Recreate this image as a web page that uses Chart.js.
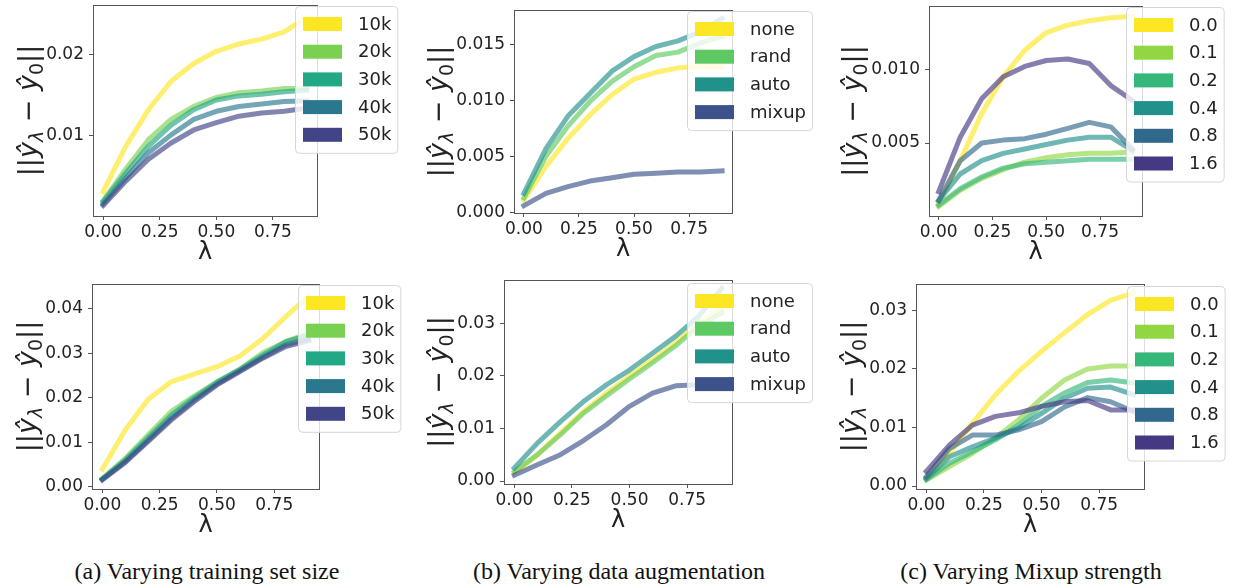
<!DOCTYPE html>
<html>
<head>
<meta charset="utf-8">
<script src="https://cdn.jsdelivr.net/npm/chart.js@4.4.1/dist/chart.umd.min.js"></script>
<style>
  body { margin: 0; background: #fff; }
  #page { position: relative; width: 1233px; height: 588px; overflow: hidden; background: #fff; }
  canvas { position: absolute; }
  .cap { position: absolute; top: 558px; font-family: "Liberation Serif", "Times New Roman", serif; font-size: 24px; color: #111; white-space: nowrap; transform: translateX(-50%); }
</style>
</head>
<body>
<div id="page">
  <canvas id="sizeTopChart" width="410" height="270" style="left:0px;top:0px"></canvas>
  <canvas id="augTopChart" width="410" height="270" style="left:410px;top:0px"></canvas>
  <canvas id="mixTopChart" width="413" height="270" style="left:820px;top:0px"></canvas>
  <canvas id="sizeBotChart" width="410" height="275" style="left:0px;top:270px"></canvas>
  <canvas id="augBotChart" width="410" height="275" style="left:410px;top:270px"></canvas>
  <canvas id="mixBotChart" width="413" height="275" style="left:820px;top:270px"></canvas>
  <div class="cap" style="left:207px">(a) Varying training set size</div>
  <div class="cap" style="left:619px">(b) Varying data augmentation</div>
  <div class="cap" style="left:1031px">(c) Varying Mixup strength</div>
</div>
<script>
// lambda values on the x axis
const lambdas = [0, 0.1, 0.2, 0.3, 0.4, 0.5, 0.6, 0.7, 0.8, 0.9];
const xTicks = [0, 0.25, 0.5, 0.75];
const xTickLabels = ['0.00', '0.25', '0.50', '0.75'];

// (a) training set size
const sizeLabels = ['10k', '20k', '30k', '40k', '50k'];
const sizeTop = [
  [0.0031, 0.0087, 0.0132, 0.0167, 0.0189, 0.0204, 0.0213, 0.0219, 0.0228, 0.0246],
  [0.0020, 0.0059, 0.0095, 0.0120, 0.0136, 0.0147, 0.0153, 0.0155, 0.0158, 0.0158],
  [0.0019, 0.0054, 0.0087, 0.0113, 0.0132, 0.0144, 0.0149, 0.0151, 0.0154, 0.0156],
  [0.0016, 0.0048, 0.0079, 0.0101, 0.0120, 0.0130, 0.0136, 0.0139, 0.0142, 0.0143],
  [0.0014, 0.0044, 0.0071, 0.0091, 0.0107, 0.0116, 0.0124, 0.0128, 0.0130, 0.0134]
];
const sizeBot = [
  [0.0040, 0.0128, 0.0197, 0.0236, 0.0253, 0.0270, 0.0294, 0.0333, 0.0382, 0.0428],
  [0.0019, 0.0064, 0.0117, 0.0169, 0.0204, 0.0236, 0.0264, 0.0301, 0.0326, 0.0345],
  [0.0018, 0.0061, 0.0111, 0.0161, 0.0200, 0.0235, 0.0264, 0.0296, 0.0326, 0.0341],
  [0.0017, 0.0057, 0.0105, 0.0154, 0.0195, 0.0231, 0.0261, 0.0291, 0.0319, 0.0333],
  [0.0016, 0.0055, 0.0102, 0.0150, 0.0191, 0.0229, 0.0259, 0.0289, 0.0315, 0.0328]
];
const sizeTopYTicks = [0.01, 0.02];
const sizeTopYLabels = ['0.01', '0.02'];
const sizeBotYTicks = [0, 0.01, 0.02, 0.03, 0.04];
const sizeBotYLabels = ['0.00', '0.01', '0.02', '0.03', '0.04'];

// (b) data augmentation
const augLabels = ['none', 'rand', 'auto', 'mixup'];
const augTop = [
  [0.0011, 0.0041, 0.0066, 0.0087, 0.0105, 0.0119, 0.0125, 0.0129, 0.0130, 0.0130],
  [0.0013, 0.0050, 0.0077, 0.0099, 0.0117, 0.0130, 0.0140, 0.0143, 0.0151, 0.0157],
  [0.0017, 0.0057, 0.0086, 0.0106, 0.0126, 0.0139, 0.0148, 0.0153, 0.0161, 0.0173],
  [0.0006, 0.0017, 0.0023, 0.0028, 0.0031, 0.0034, 0.0035, 0.0036, 0.0036, 0.0037]
];
const augBot = [
  [0.0015, 0.0050, 0.0091, 0.0132, 0.0167, 0.0199, 0.0230, 0.0262, 0.0300, 0.0327],
  [0.0018, 0.0050, 0.0088, 0.0129, 0.0162, 0.0194, 0.0225, 0.0257, 0.0295, 0.0319],
  [0.0025, 0.0072, 0.0113, 0.0151, 0.0183, 0.0211, 0.0243, 0.0275, 0.0313, 0.0366],
  [0.0011, 0.0031, 0.0050, 0.0077, 0.0107, 0.0142, 0.0167, 0.0181, 0.0183, 0.0184]
];
const augTopYTicks = [0, 0.005, 0.01, 0.015];
const augTopYLabels = ['0.000', '0.005', '0.010', '0.015'];
const augBotYTicks = [0, 0.01, 0.02, 0.03];
const augBotYLabels = ['0.00', '0.01', '0.02', '0.03'];

// (c) mixup strength
const mixLabels = ['0.0', '0.1', '0.2', '0.4', '0.8', '1.6'];
const mixTop = [
  [0.0009, 0.0038, 0.0070, 0.0095, 0.0113, 0.0125, 0.0130, 0.0133, 0.0135, 0.0136],
  [0.0007, 0.0018, 0.0026, 0.0032, 0.0037, 0.0040, 0.0042, 0.0043, 0.0043, 0.0044],
  [0.0008, 0.0019, 0.0027, 0.0033, 0.0036, 0.0037, 0.0038, 0.0039, 0.0039, 0.0039],
  [0.0011, 0.0029, 0.0038, 0.0043, 0.0046, 0.0049, 0.0052, 0.0054, 0.0054, 0.0045],
  [0.0011, 0.0038, 0.0050, 0.0052, 0.0053, 0.0056, 0.0060, 0.0064, 0.0061, 0.0046],
  [0.0017, 0.0054, 0.0080, 0.0095, 0.0102, 0.0106, 0.0107, 0.0104, 0.0089, 0.0079]
];
const mixBot = [
  [0.0013, 0.0056, 0.0107, 0.0156, 0.0196, 0.0230, 0.0262, 0.0293, 0.0317, 0.0330],
  [0.0010, 0.0033, 0.0056, 0.0082, 0.0113, 0.0150, 0.0181, 0.0200, 0.0205, 0.0205],
  [0.0011, 0.0039, 0.0059, 0.0079, 0.0104, 0.0136, 0.0159, 0.0177, 0.0181, 0.0176],
  [0.0013, 0.0050, 0.0067, 0.0082, 0.0099, 0.0124, 0.0150, 0.0167, 0.0169, 0.0156],
  [0.0016, 0.0064, 0.0087, 0.0087, 0.0096, 0.0110, 0.0135, 0.0151, 0.0144, 0.0127],
  [0.0025, 0.0070, 0.0104, 0.0119, 0.0125, 0.0136, 0.0144, 0.0146, 0.0130, 0.0130]
];
const mixTopYTicks = [0.005, 0.01];
const mixTopYLabels = ['0.005', '0.010'];
const mixBotYTicks = [0, 0.01, 0.02, 0.03];
const mixBotYLabels = ['0.00', '0.01', '0.02', '0.03'];

// viridis colours
const viridis5 = ['#fde725', '#7ad151', '#22a884', '#2a788e', '#414487'];
const viridis4 = ['#fde725', '#5ec962', '#21918c', '#3b528b'];
const viridis6 = ['#fde725', '#90d743', '#35b779', '#21918c', '#31688e', '#443983'];

const tickFont = { family: 'DejaVu Sans', size: 17 };
const textColor = '#222';

function withAlpha(hex, a) {
  const n = parseInt(hex.slice(1), 16);
  return `rgba(${(n >> 16) & 255},${(n >> 8) & 255},${n & 255},${a})`;
}

// box, y title, x title and legend (legend sits partly outside the axes like matplotlib)
const panelDeco = {
  id: 'panelDeco',
  afterDraw(chart, args, opts) {
    const ctx = chart.ctx;
    const a = chart.chartArea;
    ctx.save();

    // axes frame
    ctx.strokeStyle = '#555';
    ctx.lineWidth = 1;
    ctx.strokeRect(Math.round(a.left) + 0.5, Math.round(a.top) + 0.5,
      Math.round(a.right - a.left), Math.round(a.bottom - a.top));

    // x title
    ctx.fillStyle = textColor;
    ctx.font = '24px "DejaVu Sans"';
    ctx.textAlign = 'center';
    ctx.textBaseline = 'middle';
    ctx.fillText('λ', (a.left + a.right) / 2, a.bottom + 37);

    // y title ||ŷ_λ − ŷ_0||
    const parts = [
      { t: '||', f: '27px "DejaVu Sans"', dy: 0 },
      { t: 'ŷ', f: 'italic 27px "DejaVu Sans"', dy: 0 },
      { t: 'λ', f: 'italic 19px "DejaVu Sans"', dy: 6 },
      { t: ' − ', f: '27px "DejaVu Sans"', dy: 0 },
      { t: 'ŷ', f: 'italic 27px "DejaVu Sans"', dy: 0 },
      { t: '0', f: '19px "DejaVu Sans"', dy: 6 },
      { t: '||', f: '27px "DejaVu Sans"', dy: 0 }
    ];
    let total = 0;
    parts.forEach(p => { ctx.font = p.f; p.w = ctx.measureText(p.t).width; total += p.w; });
    ctx.translate(a.left - opts.titleOff, (a.top + a.bottom) / 2);
    ctx.rotate(-Math.PI / 2);
    ctx.textAlign = 'left';
    ctx.textBaseline = 'alphabetic';
    let x = -total / 2;
    parts.forEach(p => { ctx.font = p.f; ctx.fillText(p.t, x, 9 + p.dy); x += p.w; });
    ctx.setTransform(1, 0, 0, 1, 0, 0);

    // legend
    const ds = chart.data.datasets;
    ctx.font = '18px "DejaVu Sans"';
    let maxW = 0;
    ds.forEach(d => { maxW = Math.max(maxW, ctx.measureText(d.label).width); });
    const lx = a.right + opts.dx, ly = a.top + opts.dy;
    const lw = 63 + maxW + 6, lh = 36 + (ds.length - 1) * 27.7;
    ctx.beginPath();
    ctx.roundRect(lx + 0.5, ly + 0.5, lw, lh, 4);
    ctx.fillStyle = 'rgba(255,255,255,0.8)';
    ctx.fill();
    ctx.strokeStyle = '#d6d6d6';
    ctx.stroke();
    ctx.textAlign = 'left';
    ctx.textBaseline = 'middle';
    ds.forEach((d, i) => {
      const cy = ly + 18 + i * 27.7;
      ctx.fillStyle = d.legendColor;
      ctx.fillRect(lx + 8, cy - 7, 39, 14);
      ctx.fillStyle = textColor;
      ctx.fillText(d.label, lx + 63, cy + 1);
    });
    ctx.restore();
  }
};

function makePanel(id, cfg) {
  const canvas = document.getElementById(id);
  const off = canvas.getBoundingClientRect();
  const page = document.getElementById('page').getBoundingClientRect();
  const cx = off.left - page.left, cy = off.top - page.top;
  const cw = canvas.width, ch = canvas.height;
  const box = cfg.box;

  new Chart(canvas, {
    type: 'line',
    data: {
      datasets: cfg.series.map((vals, i) => ({
        label: cfg.labels[i],
        data: lambdas.map((x, j) => ({ x: x, y: vals[j] })),
        borderColor: withAlpha(cfg.colors[i], 0.65),
        legendColor: cfg.colors[i],
        borderWidth: 5,
        borderCapStyle: 'square',
        borderJoinStyle: 'round',
        pointRadius: 0,
        tension: 0,
        order: -i
      }))
    },
    options: {
      responsive: false,
      animation: false,
      events: [],
      layout: { padding: { left: 0, top: box.t - cy, right: cx + cw - box.r, bottom: 0 } },
      plugins: {
        legend: { display: false },
        tooltip: { enabled: false },
        panelDeco: { dx: cfg.legend[0], dy: cfg.legend[1], titleOff: cfg.titleOff }
      },
      scales: {
        x: {
          type: 'linear',
          min: -0.045,
          max: 0.945,
          afterBuildTicks: s => { s.ticks = xTicks.map(v => ({ value: v })); },
          afterFit: s => { s.height = cy + ch - box.b; s.paddingLeft = 0; s.paddingRight = 0; },
          ticks: {
            font: tickFont, color: textColor, padding: 2, maxRotation: 0, autoSkip: false,
            callback: (v, i) => xTickLabels[i]
          },
          grid: { drawOnChartArea: false, tickLength: 4, color: '#555' },
          border: { display: false }
        },
        y: {
          type: 'linear',
          min: cfg.yRange[0],
          max: cfg.yRange[1],
          afterBuildTicks: s => { s.ticks = cfg.yTicks.map(v => ({ value: v })); },
          afterFit: s => { s.width = box.l - cx; s.paddingTop = 0; s.paddingBottom = 0; },
          ticks: {
            font: tickFont, color: textColor, padding: 5, autoSkip: false,
            callback: (v, i) => cfg.yLabels[i]
          },
          grid: { drawOnChartArea: false, tickLength: 4, color: '#555' },
          border: { display: false }
        }
      }
    },
    plugins: [panelDeco]
  });
}

makePanel('sizeTopChart', {
  box: { l: 93, t: 5, r: 317, b: 216 }, yRange: [0.0001, 0.0261],
  series: sizeTop, labels: sizeLabels, colors: viridis5,
  yTicks: sizeTopYTicks, yLabels: sizeTopYLabels, legend: [-22, 1], titleOff: 65
});
makePanel('augTopChart', {
  box: { l: 514, t: 10, r: 732, b: 213 }, yRange: [-0.00005, 0.01806],
  series: augTop, labels: augLabels, colors: viridis4,
  yTicks: augTopYTicks, yLabels: augTopYLabels, legend: [-45, 1], titleOff: 76
});
makePanel('mixTopChart', {
  box: { l: 929, t: 6, r: 1142, b: 216 }, yRange: [0.00005, 0.0143],
  series: mixTop, labels: mixLabels, colors: viridis6,
  yTicks: mixTopYTicks, yLabels: mixTopYLabels, legend: [-16, 1], titleOff: 77
});
makePanel('sizeBotChart', {
  box: { l: 92, t: 284, r: 319, b: 489 }, yRange: [-0.00045, 0.04554],
  series: sizeBot, labels: sizeLabels, colors: viridis5,
  yTicks: sizeBotYTicks, yLabels: sizeBotYLabels, legend: [-21, 1], titleOff: 65
});
makePanel('augBotChart', {
  box: { l: 504, t: 280, r: 732, b: 484 }, yRange: [-0.00057, 0.03822],
  series: augBot, labels: augLabels, colors: viridis4,
  yTicks: augBotYTicks, yLabels: augBotYLabels, legend: [-45, 3], titleOff: 66
});
makePanel('mixBotChart', {
  box: { l: 916, t: 284, r: 1144, b: 489 }, yRange: [-0.00051, 0.03451],
  series: mixBot, labels: mixLabels, colors: viridis6,
  yTicks: mixBotYTicks, yLabels: mixBotYLabels, legend: [-17, 2], titleOff: 65
});
</script>
</body>
</html>
